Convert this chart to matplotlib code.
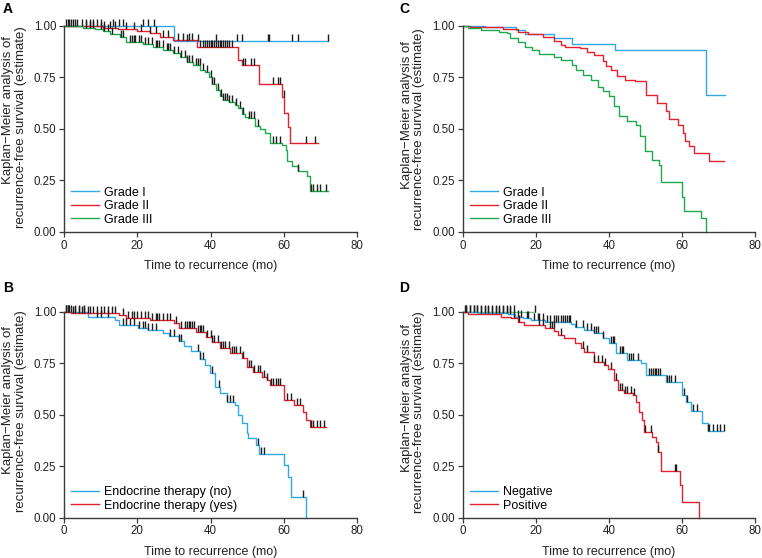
import matplotlib

matplotlib.use("Agg")
import matplotlib.pyplot as plt  # noqa: E402
import numpy as np  # noqa: E402
from matplotlib.path import Path  # noqa: E402

plt.rcParams["font.family"] = ["Liberation Sans", "DejaVu Sans"]

BLUE, RED, GREEN = "#2fa9e6", "#e3202b", "#1fa94e"
CENS_COLOR = "#1e1e1e"

# ---- panel A: grade (recurrence-free survival) ----
A_I_t = [0, 30, 72.2]
A_I_s = [1.0, 0.929, 0.929]
A_I_cens = [0.5, 1.5, 2.5, 3.5, 13.5, 15, 16, 21.5, 23, 24.5, 33.5, 36.5,
            41.5, 47.2, 48.7, 55.6, 56, 62.3, 64, 72]
A_II_t = [0, 10.7, 14.8, 19.8, 23.5, 26.2, 29.8, 36.4, 47.6, 48.5, 53.3,
          59.4, 60.1, 61.2, 61.7, 69.3]
A_II_s = [1.0, 0.992, 0.984, 0.975, 0.964, 0.948, 0.932, 0.897, 0.837,
          0.810, 0.718, 0.655, 0.578, 0.510, 0.432, 0.432]
A_II_cens = [1, 2, 3, 5, 6, 7, 8, 9, 10, 11, 12.5, 14, 17, 19, 21, 23.5, 25,
             27, 28.5, 31, 32.5, 34, 35, 37, 38, 38.5, 39, 39.5, 40, 40.5, 41,
             41.5, 42, 42.5, 43, 43.5, 44, 44.5, 45, 46, 49, 49.5, 51, 52, 57,
             58.5, 59, 60, 66, 68.5]
A_III_t = [0, 5.3, 8.6, 10.7, 12.5, 15.2, 17, 21.7, 24.4, 27.1, 29.8, 31.7,
           33.5, 35.3, 37.1, 38.5, 39.5, 40.5, 41.5, 42.6, 43.5, 45, 46.6,
           47.5, 48.5, 49.5, 50.3, 52.2, 53.5, 54.9, 56.2, 59.4, 60.5, 60.8,
           62.3, 64, 66.3, 67.2, 72.2]
A_III_s = [1.0, 0.99, 0.984, 0.974, 0.963, 0.947, 0.922, 0.915, 0.899,
           0.883, 0.867, 0.851, 0.827, 0.81, 0.786, 0.775, 0.75, 0.72, 0.69,
           0.659, 0.642, 0.63, 0.618, 0.60, 0.575, 0.56, 0.553, 0.513, 0.50,
           0.48, 0.432, 0.424, 0.40, 0.343, 0.319, 0.295, 0.27, 0.20, 0.20]
A_III_cens = [6, 7, 8, 10, 11, 12, 13, 15.5, 16, 18, 18.5, 19, 19.5, 20.5, 21,
              22, 23, 24, 25, 25.5, 26, 27, 28, 28.5, 29, 30, 31, 32, 33,
              33.5, 34, 35, 36, 36.5, 37, 38, 39, 40, 40.5, 41, 42, 43, 43.5,
              44, 44.5, 45, 46, 47, 48, 49, 50.5, 51, 52, 53, 57, 58, 59, 64,
              67.5, 68, 69, 70, 71.5]

# ---- panel B: endocrine therapy ----
B_no_t = [0, 6.6, 13.9, 15, 20.3, 23, 26.9, 28.7, 31.5, 32.8, 34.6, 37, 38.5,
          39.9, 41.2, 42.5, 44.4, 46.7, 47.6, 48.5, 49.9, 50.3, 52.5, 53.3,
          60.2, 61.2, 62.1, 66.2]
B_no_s = [1.0, 0.977, 0.961, 0.937, 0.924, 0.912, 0.90, 0.884, 0.86, 0.836,
          0.812, 0.771, 0.742, 0.702, 0.637, 0.605, 0.564, 0.548, 0.499,
          0.459, 0.41, 0.386, 0.353, 0.31, 0.256, 0.199, 0.099, 0.0]
B_no_cens = [0.5, 1, 2, 3, 4, 5.5, 9, 10, 12, 16, 17, 18, 19, 20.5, 21.5, 22,
             23, 24, 25, 29, 30, 31.5, 32, 36.5, 37, 38, 40.3, 42.3, 44.4,
             45.3, 46.2, 53, 53.8, 54.5, 65.2]
B_yes_t = [0, 2, 15, 17, 23.5, 30, 31.5, 36, 38.7, 40.4, 42.5, 45.3, 48.5,
           49.9, 51.7, 54, 55.3, 56.3, 60.2, 62.9, 65.2, 66.1, 67.3, 71.4]
B_yes_s = [1.0, 0.993, 0.985, 0.97, 0.961, 0.945, 0.92, 0.904, 0.88, 0.856,
           0.823, 0.799, 0.775, 0.734, 0.71, 0.685, 0.67, 0.645, 0.572, 0.548,
           0.515, 0.475, 0.44, 0.44]
B_yes_cens = [0.5, 1, 1.5, 2.5, 3, 4, 5, 5.5, 6.5, 7, 8, 9, 10, 11, 12, 13, 14,
              16, 17.5, 18.5, 19, 20, 21, 22, 23, 24, 25, 25.5, 26, 27, 28, 29,
              30.5, 32, 33, 33.5, 34, 34.5, 35, 35.5, 36.5, 37, 37.5, 38, 39,
              40, 40.5, 41, 42, 43, 43.5, 44, 45, 46, 46.5, 47, 48, 49, 50.5,
              51, 52, 53, 53.5, 54.5, 55.5, 56.5, 57, 58, 58.5, 59, 61, 62,
              63.5, 64.5, 67.5, 68, 69, 70, 71]

# ---- panel C: grade (no censoring marks) ----
C_I_t = [0, 6.1, 14.5, 17, 25, 30, 41.8, 66.6, 71.8]
C_I_s = [1.0, 0.993, 0.98, 0.96, 0.943, 0.914, 0.882, 0.663, 0.663]
C_II_t = [0, 2, 11, 15, 18, 22, 25, 27, 28, 32, 34, 36, 38.3, 39.3, 40.7,
          42.1, 44.4, 47.1, 50.1, 53.3, 55.6, 56.5, 58.8, 60.3, 60.9, 62,
          63.3, 67.4, 71.5]
C_II_s = [1.0, 0.995, 0.984, 0.972, 0.96, 0.948, 0.929, 0.91, 0.90, 0.892,
          0.875, 0.86, 0.832, 0.804, 0.788, 0.756, 0.739, 0.731, 0.663, 0.626,
          0.586, 0.548, 0.521, 0.48, 0.44, 0.416, 0.383, 0.343, 0.343]
C_III_t = [0, 1.5, 5, 10, 12, 13, 15, 17, 19, 21, 25, 27, 30, 31, 33, 35, 37,
           38.3, 40.1, 41.4, 42.8, 45, 47.3, 48.6, 50, 51.8, 53.6, 54.3, 59.9,
           60.5, 65.2, 66.7]
C_III_s = [1.0, 0.992, 0.98, 0.973, 0.964, 0.94, 0.924, 0.90, 0.883, 0.864,
           0.851, 0.835, 0.81, 0.786, 0.762, 0.738, 0.705, 0.686, 0.659, 0.61,
           0.562, 0.537, 0.521, 0.465, 0.392, 0.351, 0.327, 0.243, 0.17,
           0.104, 0.068, 0.0]

# ---- panel D: negative / positive (+ unlabelled short group) ----
D_neg_t = [0, 4.2, 12.4, 14.2, 16.5, 18.7, 22.4, 29.7, 30.6, 33.3, 36, 38.3,
           40.1, 42, 45.1, 48.8, 50.1, 55.6, 59.9, 61.1, 62.5, 65.6, 67, 71.3]
D_neg_s = [1.0, 0.995, 0.988, 0.977, 0.97, 0.961, 0.953, 0.94, 0.929, 0.913,
           0.896, 0.872, 0.848, 0.80, 0.767, 0.75, 0.694, 0.661, 0.596, 0.564,
           0.519, 0.459, 0.423, 0.423]
D_neg_cens = [1, 2, 3, 4, 5, 6, 7, 8, 9, 10, 11, 12, 13, 15, 16, 17.5, 18,
              19.5, 20.5, 21, 22, 23, 24, 25, 25.5, 26, 27, 27.5, 28, 28.5, 29,
              29.5, 31, 33, 34, 35, 36, 36.5, 37, 38.5, 40.5, 41, 41.5, 43,
              43.5, 44, 45.5, 46, 46.5, 48, 51, 51.5, 52, 52.5, 53, 53.5, 54,
              56, 56.5, 57, 58, 60.5, 61.5, 63, 64, 67, 67.5, 68.5, 69.5, 70.5,
              71.5]
D_pos_t = [0, 1.5, 10.5, 13.3, 15.1, 16.9, 22.4, 25.1, 26, 27.8, 30.6, 32.4,
           33.3, 36, 38.8, 39.9, 41.5, 42.4, 44.2, 46.5, 47.4, 48.3, 49.2,
           49.6, 51.9, 52.8, 53.5, 54.2, 59.4, 60.1, 64.6]
D_pos_s = [1.0, 0.988, 0.977, 0.969, 0.953, 0.937, 0.921, 0.908, 0.888,
           0.872, 0.848, 0.823, 0.807, 0.759, 0.742, 0.722, 0.669, 0.621,
           0.605, 0.597, 0.564, 0.515, 0.475, 0.415, 0.394, 0.369, 0.321,
           0.228, 0.159, 0.078, 0.0]
D_pos_cens = [14, 15.5, 21, 22, 24, 24.5, 25, 27, 33, 34, 36, 37, 38, 39,
              40.5, 42, 43, 43.5, 44.5, 45, 46, 47, 50, 51.5, 53.5, 58, 58.5]
D_unk_t = [0, 19.8]
D_unk_s = [1.0, 1.0]
D_unk_cens = [0.5, 1, 2, 3, 4, 5, 6, 7, 8, 9, 10, 11, 12, 13, 14, 19.8]

X_TICKS = [0, 20, 40, 60, 80]
Y_TICKS = [0.0, 0.25, 0.5, 0.75, 1.0]
YLABEL_1 = "Kaplan\u2212Meier analysis of"
YLABEL_2 = "recurrence-free survival (estimate)"
XLABEL = "Time to recurrence (mo)"

# tick mark that sits on top of the curve
UP_TICK = Path([(0, 0), (0, 1)])


def km(ax, t, s, color, label=None, cens=None):
    t, s = np.asarray(t, float), np.asarray(s, float)
    ax.step(t, s, where="post", color=color, lw=1.0, label=label,
            clip_on=False, zorder=2)
    if cens:
        c = np.asarray(cens, float)
        y = s[np.clip(np.searchsorted(t, c, side="right") - 1, 0, len(s) - 1)]
        ax.plot(c, y, ls="none", marker=UP_TICK, ms=10, mew=1.0,
                color=CENS_COLOR, clip_on=False, zorder=3)


def style(ax, yl_pos):
    ax.set_xlim(0, 80)
    ax.set_ylim(0, 1)
    ax.set_xticks(X_TICKS)
    ax.set_yticks(Y_TICKS)
    ax.set_yticklabels([f"{v:.2f}" for v in Y_TICKS])
    for side in ("top", "right"):
        ax.spines[side].set_visible(False)
    for side in ("left", "bottom"):
        ax.spines[side].set_color("#3a3a3a")
        ax.spines[side].set_linewidth(1.0)
    ax.tick_params(direction="out", length=3.5, width=0.9, color="#3a3a3a",
                   labelsize=8.3, labelcolor="#222222", pad=2)
    ax.set_xlabel(XLABEL, fontsize=9, color="#222222", labelpad=6)
    y1, y2 = yl_pos
    ax.text(-0.190, y1, YLABEL_1, rotation=90, ha="center", va="center",
            fontsize=9.5, color="#222222", transform=ax.transAxes)
    ax.text(-0.148, y2, YLABEL_2, rotation=90, ha="center", va="center",
            fontsize=9.5, color="#222222", transform=ax.transAxes)


def legend(ax):
    ax.legend(loc="lower left", bbox_to_anchor=(0.025, 0.03), frameon=False,
              fontsize=9, handlelength=2.2, handletextpad=0.4,
              labelspacing=0.12, borderaxespad=0, borderpad=0)


fig = plt.figure(figsize=(7.62, 5.58), dpi=100)
W, H = 762, 558
axA = fig.add_axes([64 / W, 1 - 232 / H, 293 / W, 206 / H])
axC = fig.add_axes([462.7 / W, 1 - 232 / H, 292.3 / W, 206 / H])
axB = fig.add_axes([64 / W, 1 - 517.7 / H, 293 / W, 205.7 / H])
axD = fig.add_axes([462.7 / W, 1 - 517.7 / H, 292.3 / W, 205.7 / H])

km(axA, A_I_t, A_I_s, BLUE, "Grade I", A_I_cens)
km(axA, A_II_t, A_II_s, RED, "Grade II", A_II_cens)
km(axA, A_III_t, A_III_s, GREEN, "Grade III", A_III_cens)
style(axA, (0.59, 0.51))
legend(axA)

km(axC, C_I_t, C_I_s, BLUE, "Grade I")
km(axC, C_II_t, C_II_s, RED, "Grade II")
km(axC, C_III_t, C_III_s, GREEN, "Grade III")
style(axC, (0.57, 0.50))
legend(axC)

km(axB, B_no_t, B_no_s, BLUE, "Endocrine therapy (no)", B_no_cens)
km(axB, B_yes_t, B_yes_s, RED, "Endocrine therapy (yes)", B_yes_cens)
style(axB, (0.57, 0.52))
legend(axB)

km(axD, D_unk_t, D_unk_s, "#6cc48a", None, D_unk_cens)
km(axD, D_neg_t, D_neg_s, BLUE, "Negative", D_neg_cens)
km(axD, D_pos_t, D_pos_s, RED, "Positive", D_pos_cens)
style(axD, (0.58, 0.515))
legend(axD)

for x, y, letter in [(3, 2, "A"), (399, 2, "C"), (3, 281, "B"), (399, 281, "D")]:
    fig.text(x / W, 1 - y / H, letter, fontsize=10, fontweight="bold",
             ha="left", va="top")

fig.savefig("out.png", dpi=100)
